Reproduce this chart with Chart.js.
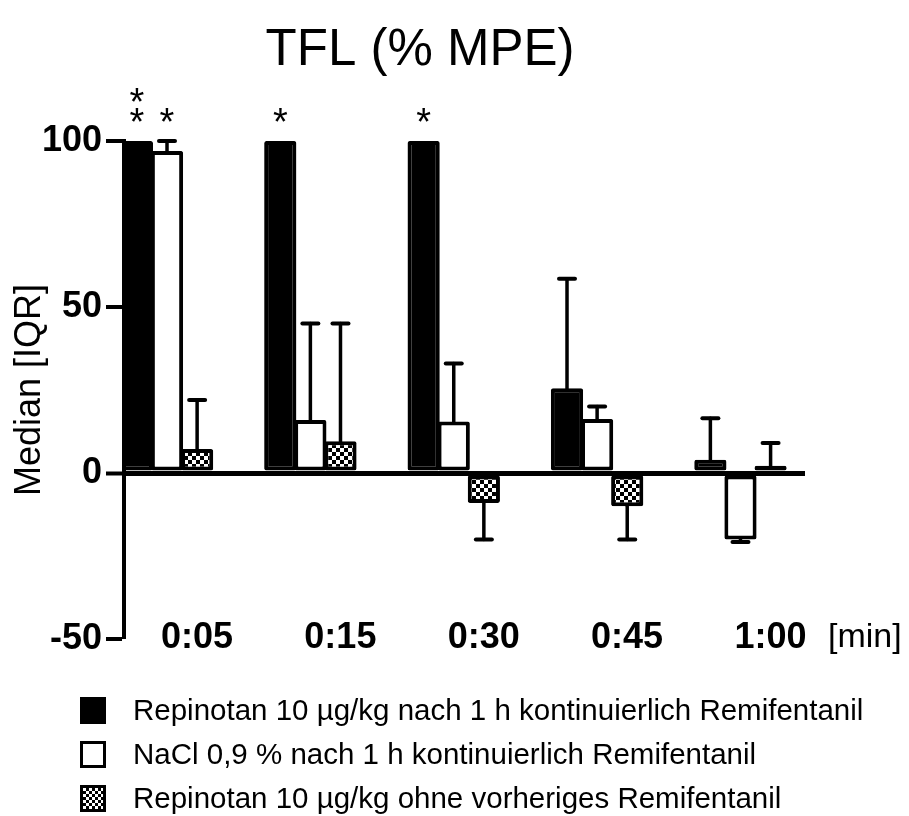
<!DOCTYPE html>
<html><head><meta charset="utf-8">
<script src="https://cdn.jsdelivr.net/npm/chart.js@4"></script>
<style>
html,body{margin:0;padding:0;background:#fff;}
#wrap{position:relative;width:909px;height:816px;}
#legend{position:absolute;left:80px;top:688px;font-family:"Liberation Sans",Arial,sans-serif;font-size:29.5px;color:#000;}
.row{display:flex;align-items:center;height:44px;}
.sw{width:26px;height:27px;box-sizing:border-box;border:3px solid #000;flex:none;}
.lbl{margin-left:27px;line-height:1;white-space:nowrap;}
</style></head><body>
<div id="wrap"><canvas id="c" width="909" height="816"></canvas><div id="legend"></div></div>
<script>
const chartTitle = 'TFL (% MPE)';
const yAxisTitle = 'Median [IQR]';
const xUnit = '[min]';
const categories = ['0:05', '0:15', '0:30', '0:45', '1:00'];
const seriesNames = [
  'Repinotan 10 µg/kg nach 1 h kontinuierlich Remifentanil',
  'NaCl 0,9 % nach 1 h kontinuierlich Remifentanil',
  'Repinotan 10 µg/kg ohne vorheriges Remifentanil'
];
// medians
const repinotanRemi = [100, 100, 100, 25.5, 4];
const naclRemi      = [97, 16, 15.5, 16.3, -20];
const repinotanOnly = [7.2, 9.6, -9, -10, 2.2];
// IQR whisker ends
const repinotanRemiIQR = [null, null, null, 58.5, 16.5];
const naclRemiIQR      = [100, 45, 33, 20, -20.8];
const repinotanOnlyIQR = [22, 45, -20, -20, 9];
// significance stars
const repinotanRemiStars = [2, 1, 1, 0, 0];
const naclRemiStars      = [1, 0, 0, 0, 0];
const repinotanOnlyStars = [0, 0, 0, 0, 0];
const yTicks = [-50, 0, 50, 100];

const FONT = '"Liberation Sans", Arial, sans-serif';
Chart.defaults.font.family = FONT;
Chart.defaults.color = '#000';

// checker pattern
const pc = document.createElement('canvas');
pc.width = 8; pc.height = 8;
const pctx = pc.getContext('2d');
pctx.fillStyle = '#fff'; pctx.fillRect(0, 0, 8, 8);
pctx.fillStyle = '#000'; pctx.fillRect(0, 0, 4, 4); pctx.fillRect(4, 4, 4, 4);
const checker = pctx.createPattern(pc, 'repeat');

const toXY = arr => arr.map((v, i) => ({x: i, y: v}));

const fills = ['#000', '#fff', checker];
const valueSets = [repinotanRemi, naclRemi, repinotanOnly];
const iqrSets = [repinotanRemiIQR, naclRemiIQR, repinotanOnlyIQR];
const starSets = [repinotanRemiStars, naclRemiStars, repinotanOnlyStars];

const datasets = valueSets.map((vals, i) => ({
  label: seriesNames[i],
  data: toXY(vals),
  iqr: iqrSets[i],
  stars: starSets[i],
  backgroundColor: fills[i],
  borderColor: '#000',
  borderWidth: 4,
  borderSkipped: false,
  borderRadius: 2,
  categoryPercentage: 0.63,
  barPercentage: 1.07
}));

function line(ctx, x1, y1, x2, y2) { ctx.beginPath(); ctx.moveTo(x1, y1); ctx.lineTo(x2, y2); ctx.stroke(); }

const extras = {
  id: 'extras',
  afterDatasetsDraw(chart) {
    const ctx = chart.ctx, ys = chart.scales.y;
    chart.data.datasets.forEach((ds, i) => {
      const meta = chart.getDatasetMeta(i);
      meta.data.forEach((bar, j) => {
        const e = ds.iqr[j];
        if (e == null) return;
        const y1 = ys.getPixelForValue(ds.data[j].y), y2 = ys.getPixelForValue(e);
        if (Math.abs(y2 - y1) < 1) return;
        ctx.save();
        ctx.strokeStyle = '#000'; ctx.lineCap = 'round';
        ctx.lineWidth = 3.5; line(ctx, bar.x, y1, bar.x, y2);
        ctx.lineWidth = 4; line(ctx, bar.x - 8, y2, bar.x + 8, y2);
        ctx.restore();
      });
    });
  },
  afterDraw(chart) {
    const ctx = chart.ctx, ys = chart.scales.y, ca = chart.chartArea;
    ctx.save();
    ctx.fillStyle = '#000';
    // stars
    ctx.font = '38px ' + FONT; ctx.textAlign = 'center'; ctx.textBaseline = 'alphabetic';
    const topPix = ys.getPixelForValue(100);
    chart.data.datasets.forEach((ds, i) => {
      const meta = chart.getDatasetMeta(i);
      meta.data.forEach((bar, j) => {
        for (let k = 0; k < ds.stars[j]; k++) {
          const cy = topPix - 27 - 20 * k;
          ctx.fillText('*', bar.x, cy + 21);
        }
      });
    });
    // title
    ctx.font = '51px ' + FONT; ctx.textAlign = 'center'; ctx.textBaseline = 'alphabetic';
    ctx.fillText(chartTitle, 420, 65);
    // unit
    ctx.font = '34px ' + FONT; ctx.textAlign = 'left'; ctx.textBaseline = 'middle';
    ctx.fillText(xUnit, ca.right + 23, ca.bottom - 1);
    ctx.restore();
  }
};

new Chart(document.getElementById('c'), {
  type: 'bar',
  data: {datasets},
  plugins: [extras],
  options: {
    responsive: false,
    animation: false,
    devicePixelRatio: 1,
    layout: {padding: {top: 141, right: 104, bottom: 0, left: 0}},
    plugins: {legend: {display: false}, title: {display: false}, tooltip: {enabled: false}},
    scales: {
      x: {
        type: 'linear',
        min: -0.3, max: 4.45,
        offset: false,
        grid: {display: false, drawTicks: false},
        border: {display: false},
        afterFit(s) { s.height = 177; },
        afterBuildTicks(s) { s.ticks = categories.map((c, i) => ({value: i})); },
        ticks: {
          autoSkip: false, maxRotation: 0, minRotation: 0,
          mirror: true,
          padding: -20.6, labelOffset: 30,
          font: {size: 36, weight: 'bold'},
          color: '#000',
          callback: (v) => categories[v] ?? ''
        }
      },
      y: {
        min: -50, max: 100,
        z: 1,
        afterFit(s) { s.width = 124; },
        afterBuildTicks(s) { s.ticks = yTicks.map(v => ({value: v})); },
        grid: {
          drawOnChartArea: true,
          color: c => (c.tick && c.tick.value === 0) ? '#000' : 'rgba(0,0,0,0)',
          lineWidth: c => (c.tick && c.tick.value === 0) ? 5 : 0,
          drawTicks: true, tickLength: 18, tickWidth: 4, tickColor: '#000'
        },
        border: {display: true, color: '#000', width: 4},
        title: {display: true, text: yAxisTitle, font: {size: 36}, color: '#000', padding: {top: 8, bottom: 0}},
        ticks: {font: {size: 36, weight: 'bold'}, color: '#000', padding: 4}
      }
    }
  }
});

// legend
const lg = document.getElementById('legend');
const swStyles = [
  'background:#000;',
  'background:#fff;',
  'background: repeating-conic-gradient(#000 0 25%, #fff 0 50%) 0 0/6px 6px;'
];
seriesNames.forEach((n, i) => {
  const r = document.createElement('div'); r.className = 'row';
  const s = document.createElement('div'); s.className = 'sw'; s.setAttribute('style', swStyles[i]);
  const t = document.createElement('span'); t.className = 'lbl'; t.textContent = n;
  r.appendChild(s); r.appendChild(t); lg.appendChild(r);
});
</script>
</body></html>
